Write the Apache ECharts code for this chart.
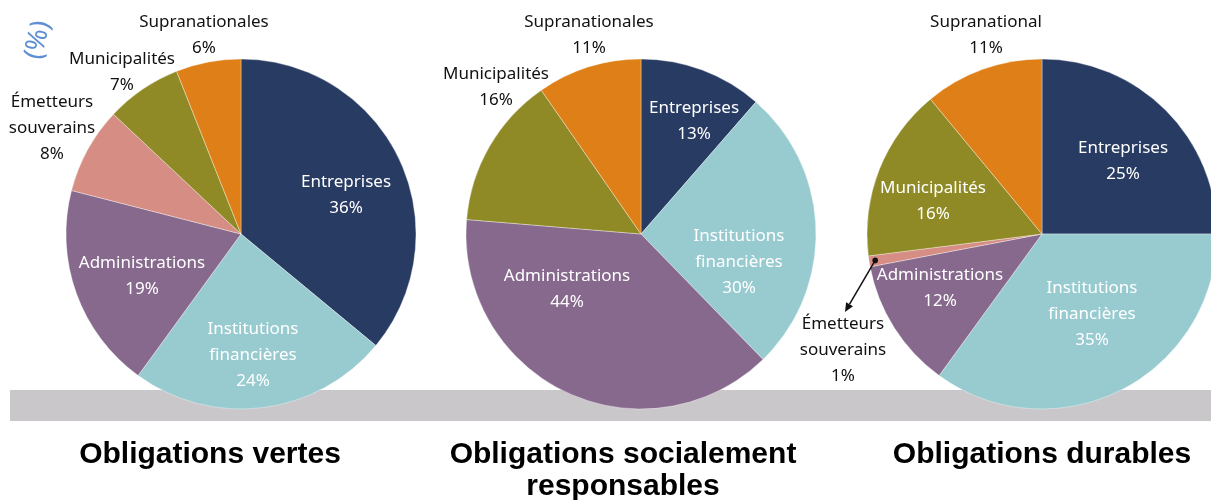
<!DOCTYPE html>
<html>
<head>
<meta charset="utf-8">
<script src="https://cdn.jsdelivr.net/npm/echarts@6/dist/echarts.min.js"></script>
<style>
  html, body { margin: 0; padding: 0; background: #ffffff; }
  #chart { width: 1211px; height: 500px; }
</style>
</head>
<body>
<div id="chart"></div>
<script>
// Issuer breakdown (%) for three kinds of bonds
const sectorsVertes = ['Entreprises', 'Institutions\nfinancières', 'Administrations', 'Émetteurs\nsouverains', 'Municipalités', 'Supranationales'];
const valuesVertes = [36, 24, 19, 8, 7, 6];

const sectorsSociales = ['Entreprises', 'Institutions\nfinancières', 'Administrations', 'Municipalités', 'Supranationales'];
const valuesSociales = [13, 30, 44, 16, 11];

const sectorsDurables = ['Entreprises', 'Institutions\nfinancières', 'Administrations', 'Émetteurs\nsouverains', 'Municipalités', 'Supranational'];
const valuesDurables = [25, 35, 12, 1, 16, 11];

const titles = ['Obligations vertes', 'Obligations socialement\nresponsables', 'Obligations durables'];
const unitLabel = '(%)';

// Styling and layout
const FONT = '"Noto Sans", sans-serif';
const TITLE_FONT = '"Liberation Sans", sans-serif';
const RADIUS = 175;
const CENTERS = [[241, 234], [641, 234], [1042, 234]];
const TITLE_X = [210, 623, 1042];

const sectorColor = name => {
  if (name.startsWith('Entreprises')) return '#283b63';
  if (name.startsWith('Institutions')) return '#98cbd0';
  if (name.startsWith('Administrations')) return '#87698d';
  if (name.startsWith('Émetteurs')) return '#d58d84';
  if (name.startsWith('Municipalit')) return '#8f8a25';
  return '#df7f17';
};

// label anchor offsets from each pie centre, and whether the label sits on the slice
const labelOffsets = [
  [[105, -39], [12, 121], [-99, 42], [-189, -106], [-119, -162], [-37, -199]],
  [[53, -113], [98, 28], [-74, 55], [-145, -147], [-52, -199]],
  [[81, -73], [50, 80], [-102, 54], [-199, 116], [-109, -33], [-56, -199]]
];
const labelInside = [
  [true, true, true, false, false, false],
  [true, true, true, false, false],
  [true, true, true, false, true, false]
];

const chart = echarts.init(document.getElementById('chart'), null, { renderer: 'canvas' });

const pies = [
  [sectorsVertes, valuesVertes],
  [sectorsSociales, valuesSociales],
  [sectorsDurables, valuesDurables]
];

const series = pies.map(([names, values], s) => ({
  type: 'pie',
  center: CENTERS[s],
  radius: [0, RADIUS],
  startAngle: 90,
  clockwise: true,
  avoidLabelOverlap: false,
  silent: true,
  z: 5,
  itemStyle: { borderColor: 'rgba(255,255,255,0.6)', borderWidth: 0.6 },
  labelLine: { show: false },
  data: names.map((n, i) => ({
    name: n,
    value: values[i],
    itemStyle: { color: sectorColor(n) },
    label: {
      show: true,
      position: 'inside',
      formatter: p => p.name + '\n' + p.value + '%',
      color: labelInside[s][i] ? '#ffffff' : '#111111',
      fontFamily: FONT,
      fontSize: 17,
      lineHeight: 26,
      align: 'center'
    }
  })),
  labelLayout: p => {
    const off = labelOffsets[s][p.dataIndex];
    return {
      x: CENTERS[s][0] + off[0],
      y: CENTERS[s][1] + off[1],
      align: 'center',
      verticalAlign: 'middle'
    };
  }
}));

// pointer from the thin "Émetteurs souverains" slice of the last pie to its label
function pointerGraphics() {
  const s = 2, idx = 3;
  const vals = valuesDurables;
  const total = vals.reduce((a, b) => a + b, 0);
  let before = 0;
  for (let i = 0; i < idx; i++) before += vals[i];
  const midFrac = (before + vals[idx] / 2) / total;
  const ang = midFrac * 2 * Math.PI; // clockwise from top
  const r = RADIUS * 0.965;
  const x0 = CENTERS[s][0] + Math.sin(ang) * r;
  const y0 = CENTERS[s][1] - Math.cos(ang) * r;
  const x1 = CENTERS[s][0] - 197;
  const y1 = CENTERS[s][1] + 78;
  const dx = x1 - x0, dy = y1 - y0;
  const len = Math.hypot(dx, dy);
  const ux = dx / len, uy = dy / len;
  const headL = 9, headW = 4;
  const bx = x1 - ux * headL, by = y1 - uy * headL;
  return [
    { type: 'line', z: 50, shape: { x1: x0, y1: y0, x2: bx, y2: by }, style: { stroke: '#111', lineWidth: 1.5 } },
    { type: 'circle', z: 50, shape: { cx: x0, cy: y0, r: 2.8 }, style: { fill: '#111' } },
    { type: 'polygon', z: 50, shape: { points: [[x1, y1], [bx - uy * headW, by + ux * headW], [bx + uy * headW, by - ux * headW]] }, style: { fill: '#111' } }
  ];
}

const graphic = [
  // grey floor band behind the pies
  { type: 'rect', z: 0, shape: { x: 10, y: 390, width: 1201, height: 31 }, style: { fill: '#c9c7ca' } },
  // unit marker
  {
    type: 'text', z: 50, x: 38, y: 40, rotation: Math.PI / 2 * 0.86,
    style: { text: unitLabel, fill: '#5e8fd2', font: '27px ' + FONT, align: 'center', verticalAlign: 'middle' }
  },
  ...titles.map((t, i) => ({
    type: 'text', z: 50, x: TITLE_X[i], y: 439,
    style: {
      text: t, fill: '#000000', font: 'bold 30px ' + TITLE_FONT,
      align: 'center', verticalAlign: 'top', lineHeight: 32
    }
  })),
  ...pointerGraphics()
];

chart.setOption({
  animation: false,
  backgroundColor: '#ffffff',
  series,
  graphic
});
</script>
</body>
</html>
